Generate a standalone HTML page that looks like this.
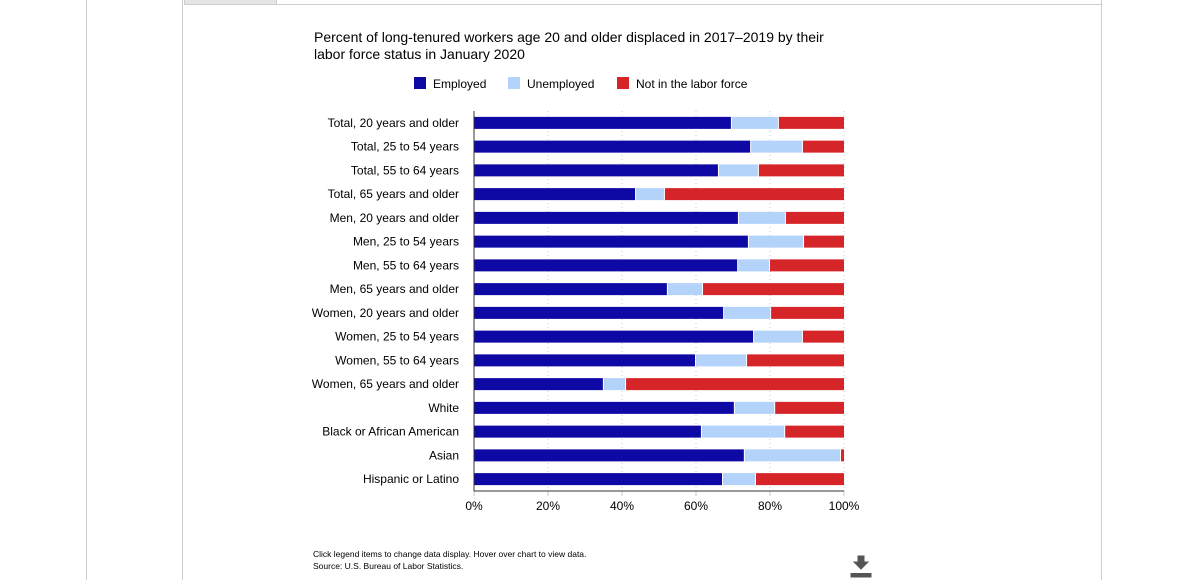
<!DOCTYPE html>
<html><head><meta charset="utf-8"><style>
body{margin:0;width:1192px;height:580px;background:#fff;overflow:hidden;font-family:"Liberation Sans",Arial,sans-serif;position:relative;}
#outer{position:absolute;left:86px;top:0;width:1px;height:580px;background:#ccc;}
#frame{position:absolute;left:182px;top:0;width:918px;height:580px;border-left:1px solid #ccc;border-right:1px solid #ccc;box-sizing:border-box;width:920px;}
#tab{position:absolute;left:184px;top:0;width:91px;height:4px;background:#e3e6e3;border:1px solid #ccc;border-top:none;}
#line4{position:absolute;left:275px;top:4px;width:826px;height:1px;background:#ccc;}
</style></head><body>
<div id="outer"></div>
<div id="frame"></div>
<div id="tab"></div>
<div id="line4"></div>
<svg id="chart" width="1192" height="580" style="position:absolute;left:0;top:0"></svg>
<script>
const categories=["Total, 20 years and older","Total, 25 to 54 years","Total, 55 to 64 years","Total, 65 years and older","Men, 20 years and older","Men, 25 to 54 years","Men, 55 to 64 years","Men, 65 years and older","Women, 20 years and older","Women, 25 to 54 years","Women, 55 to 64 years","Women, 65 years and older","White","Black or African American","Asian","Hispanic or Latino"];
const employed=[69.7,74.9,66.2,43.8,71.6,74.3,71.4,52.4,67.6,75.7,60.0,35.1,70.5,61.6,73.2,67.3];
const unemployed=[12.7,14.0,10.8,7.8,12.7,14.9,8.6,9.5,12.7,13.2,13.8,6.0,10.9,22.5,26.0,8.9];
const notInLF=[17.6,11.1,23.0,48.4,15.7,10.8,20.0,38.1,19.7,11.1,26.2,58.9,18.6,15.9,0.8,23.8];
const ticks=[0,20,40,60,80,100];
const seriesNames=["Employed","Unemployed","Not in the labor force"];
const colors=["#0e08a5","#b3d3fb","#d62528"];
const NS="http://www.w3.org/2000/svg";
const svg=document.getElementById('chart');
const x0=474,x1=844,yTop=111,rowH=23.75,barH=12;
const xs=v=>x0+(x1-x0)*v/100;
const yc=i=>yTop+rowH*i+rowH/2;
function mk(t,a,txt){const e=document.createElementNS(NS,t);for(const k in a)e.setAttribute(k,a[k]);if(txt!==undefined)e.textContent=txt;svg.appendChild(e);return e;}
let e;
e=mk('text',{x:314,y:42,'font-size':14,fill:'#000'},'Percent of long-tenured workers age 20 and older displaced in 2017–2019 by their');


e=mk('text',{x:314,y:59,'font-size':14,fill:'#000'},'labor force status in January 2020');


const legX=[414,508,617];
seriesNames.forEach((n,i)=>{
 const r=mk('rect',{x:legX[i],y:77,width:12,height:12,fill:colors[i]});
 
 
 const t=mk('text',{x:legX[i]+19,y:88,'font-size':12,fill:'#000'},n);
 
 
});
ticks.forEach(t=>{
 if(t>0){const g=mk('line',{x1:xs(t),x2:xs(t),y1:yTop,y2:yTop+rowH*16,stroke:'#ccc','stroke-dasharray':'1,3'});
 
 }
 const tk=mk('line',{x1:xs(t),x2:xs(t),y1:yTop+rowH*16,y2:yTop+rowH*16+5,stroke:'#b8c8dc'});
 
 
 const l=mk('text',{x:xs(t),y:510,'font-size':12,'text-anchor':'middle',fill:'#000'},t+'%');
 
 
});
categories.forEach((c,i)=>{
 const l=mk('text',{x:459,y:yc(i)+4,'font-size':12,'text-anchor':'end',fill:'#000'},c);
 
 
 const vals=[employed[i],unemployed[i],notInLF[i]];
 let acc=0;
 vals.forEach((v,s)=>{
  const r=mk('rect',{x:xs(acc),y:yc(i)-barH/2,width:Math.max(0,xs(acc+v)-xs(acc)-(s<2?1:0)),height:barH,fill:colors[s]});
  
  
  acc+=v;
 });
});
e=mk('line',{x1:x0,x2:x0,y1:yTop,y2:yTop+rowH*16,stroke:'#333'});


e=mk('line',{x1:x0,x2:x1,y1:yTop+rowH*16,y2:yTop+rowH*16,stroke:'#333'});


e=mk('text',{x:313,y:557,'font-size':8.5,fill:'#000'},'Click legend items to change data display. Hover over chart to view data.');


e=mk('text',{x:313,y:569,'font-size':8.5,fill:'#000'},'Source: U.S. Bureau of Labor Statistics.');


e=mk('path',{d:'M858 556h6v6h4l-7 7-7-7h4z M851 573v4h20v-4',fill:'#555',stroke:'#555','stroke-width':1});


</script>
</body></html>
